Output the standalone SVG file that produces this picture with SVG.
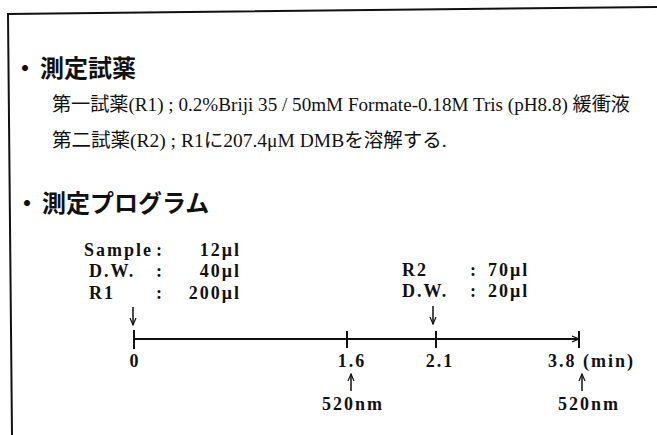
<svg xmlns="http://www.w3.org/2000/svg" width="657" height="435" viewBox="0 0 657 435">
<defs>
<style>
.h{font-family:"Noto Sans CJK JP","Noto Sans",sans-serif;font-weight:bold;font-size:24px;fill:#111}
.t{font-family:"Liberation Serif","Noto Sans CJK JP",serif;font-size:19.5px;fill:#111}
.b{font-family:"Liberation Serif","Noto Sans CJK JP",serif;font-weight:bold;font-size:18px;letter-spacing:2px;fill:#111}
.ln{stroke:#111;stroke-width:2;fill:none}
.ar{stroke:#111;stroke-width:1.5;fill:none}
</style>
<marker id="ah" markerWidth="8" markerHeight="8" refX="7" refY="4" orient="auto" markerUnits="userSpaceOnUse">
<path d="M0,1 L7,4 L0,7" fill="none" stroke="#111" stroke-width="1.2"/>
</marker>
</defs>
<rect width="657" height="435" fill="#fff"/>
<g id="frame"><path class="ln" d="M12,435 L8,14 L657,7"/></g>
<g id="reagents">
<text class="h" y="77"><tspan x="13">・</tspan><tspan x="40">測定試薬</tspan></text>
<text class="t" x="52" y="111" textLength="578" lengthAdjust="spacingAndGlyphs">第一試薬(R1) ; 0.2%Briji 35 / 50mM Formate-0.18M Tris (pH8.8)  緩衝液</text>
<text class="t" x="52" y="147">第二試薬(R2) ; R1に207.4μM DMBを溶解する.</text>
</g>
<g id="program">
<text class="h" y="212"><tspan x="15">・</tspan><tspan x="42">測定プログラム</tspan></text>
</g>
<g id="step1">
<text class="b" x="84" y="256">Sample</text>
<text class="b" x="89" y="277">D.W.</text>
<text class="b" x="89" y="299">R1</text>
<text class="b" x="156" y="256">:</text>
<text class="b" x="156" y="277">:</text>
<text class="b" x="156" y="299">:</text>
<text class="b" x="241" y="256" text-anchor="end">12μl</text>
<text class="b" x="241" y="277" text-anchor="end">40μl</text>
<text class="b" x="241" y="299" text-anchor="end">200μl</text>
</g>
<g id="step2">
<text class="b" x="402" y="276">R2</text>
<text class="b" x="402" y="297">D.W.</text>
<text class="b" x="470" y="276">:</text>
<text class="b" x="470" y="297">:</text>
<text class="b" x="488" y="276">70μl</text>
<text class="b" x="488" y="297">20μl</text>
</g>
<g id="connectors">
<line class="ln" x1="133" y1="339" x2="579" y2="339" marker-end="url(#ah)"/>
<line class="ln" x1="134" y1="330" x2="134" y2="349"/>
<line class="ln" x1="347" y1="331" x2="347" y2="348"/>
<line class="ln" x1="436" y1="331" x2="436" y2="348"/>
<line class="ln" x1="579" y1="331" x2="579" y2="348"/>
<line class="ar" x1="133" y1="307" x2="133" y2="325" marker-end="url(#ah)"/>
<line class="ar" x1="433" y1="306" x2="433" y2="324" marker-end="url(#ah)"/>
<line class="ar" x1="351" y1="391" x2="351" y2="374" marker-end="url(#ah)"/>
<line class="ar" x1="582" y1="391" x2="582" y2="374" marker-end="url(#ah)"/>
</g>
<g id="axis-labels">
<text class="b" x="135" y="367" text-anchor="middle">0</text>
<text class="b" x="352" y="367" text-anchor="middle">1.6</text>
<text class="b" x="440" y="367" text-anchor="middle">2.1</text>
<text class="b" x="548" y="367">3.8 (min)</text>
<text class="b" x="353" y="410" text-anchor="middle">520nm</text>
<text class="b" x="589" y="410" text-anchor="middle">520nm</text>
</g>
</svg>
